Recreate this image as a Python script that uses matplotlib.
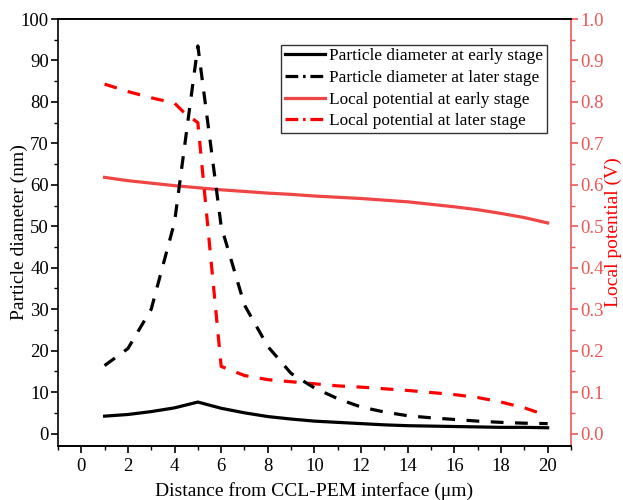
import matplotlib
matplotlib.use("Agg")
import matplotlib.pyplot as plt
from matplotlib.ticker import MultipleLocator
from matplotlib.lines import Line2D

plt.rcParams['font.family'] = ['Liberation Serif', 'DejaVu Serif']

x = list(range(1, 21))
dia_early = [4.2, 4.6, 5.3, 6.2, 7.6, 6.1, 5.0, 4.1, 3.5, 3.0, 2.7, 2.4, 2.1, 1.9, 1.8, 1.7, 1.6, 1.5, 1.5, 1.4]
dia_later = [16.4, 20.5, 30.0, 51.0, 93.5, 50.0, 31.0, 21.0, 14.5, 11.0, 8.4, 6.4, 5.2, 4.3, 3.8, 3.4, 3.0, 2.7, 2.5, 2.4]
pot_early = [0.618, 0.610, 0.604, 0.598, 0.593, 0.588, 0.584, 0.580, 0.577, 0.573,
             0.570, 0.567, 0.563, 0.559, 0.553, 0.547, 0.540, 0.531, 0.521, 0.508]
x_pot_later = [1, 2, 3, 4, 4.4, 5, 6, 7, 8, 9, 10, 11, 12, 13, 14, 15, 16, 17, 18, 19, 20]
pot_later = [0.843, 0.825, 0.81, 0.797, 0.775, 0.75, 0.162, 0.14, 0.13, 0.125, 0.12,
             0.115, 0.112, 0.108, 0.104, 0.099, 0.094, 0.087, 0.076, 0.062, 0.043]

labels = ["Particle diameter at early stage", "Particle diameter at later stage",
          "Local potential at early stage", "Local potential at later stage"]

RED_SOLID = '#f04545'
RED_AX = '#f05555'
RED_DASH = '#ff0000'

fig = plt.figure(figsize=(6.23, 5.0), dpi=100)
ax = fig.add_axes([0.093, 0.108, 0.8235, 0.854])
ax2 = ax.twinx()

lw = 2.3
dash = (4, 3.6)
ax.plot(x, dia_early, color='black', lw=lw)
ax.plot(x, dia_later, color='black', lw=lw, dashes=dash)
ax2.plot(x, pot_early, color=RED_SOLID, lw=lw)
ax2.plot(x_pot_later, pot_later, color=RED_DASH, lw=lw, dashes=dash)

ax.set_xlim(-1, 21)
ax.set_ylim(-3, 100)
ax2.set_ylim(-0.03, 1.0)

ax.xaxis.set_major_locator(MultipleLocator(2))
ax.xaxis.set_minor_locator(MultipleLocator(1))
ax.yaxis.set_major_locator(MultipleLocator(10))
ax.yaxis.set_minor_locator(MultipleLocator(5))
ax2.set_yticks([i / 10 for i in range(11)])
ax2.set_yticklabels([f"{i/10:.1f}" for i in range(11)])
ax2.yaxis.set_minor_locator(MultipleLocator(0.05))

for a in (ax, ax2):
    for s in a.spines.values():
        s.set_linewidth(1.2)
ax2.spines['right'].set_color(RED_AX)
ax2.spines['left'].set_visible(False)
ax.spines['right'].set_visible(False)

TS = 13.5
ax.tick_params(axis='both', which='major', direction='out', length=5, width=1.2,
               labelsize=TS, top=False, right=False)
ax.tick_params(axis='y', which='major', pad=1.5)
ax.tick_params(axis='both', which='minor', direction='out', length=3, width=1.0,
               top=False, right=False)
ax2.tick_params(axis='y', which='major', direction='out', length=5, width=1.2,
                labelsize=TS, colors=RED_AX, pad=2)
ax2.tick_params(axis='y', which='minor', direction='out', length=3, width=1.0,
                colors=RED_AX)

ax.set_xlabel("Distance from CCL-PEM interface (μm)", fontsize=14)
ax.xaxis.set_label_coords(0.5, -0.084)
ax.set_ylabel("Particle diameter (nm)", fontsize=14)
ax.yaxis.set_label_coords(-0.058, 0.5)
ax2.set_ylabel("Local potential (V)", fontsize=14, color=RED_DASH)
ax2.yaxis.set_label_coords(1.066, 0.5)

dd = (4, 1.5, 0.8, 1.5)
handles = [
    Line2D([], [], color='black', lw=lw),
    Line2D([], [], color='black', lw=lw, dashes=dd),
    Line2D([], [], color=RED_SOLID, lw=lw),
    Line2D([], [], color=RED_DASH, lw=lw, dashes=dd),
]
leg = ax.legend(handles=handles, labels=labels, loc='upper right',
                bbox_to_anchor=(0.953, 0.94), fontsize=12.4, frameon=True,
                fancybox=False, edgecolor='black', handlelength=2.3,
                handletextpad=0.25, borderpad=0.22, labelspacing=0.32,
                borderaxespad=0)
leg.get_frame().set_linewidth(1.0)
ax.set_zorder(ax2.get_zorder() + 1)
ax.patch.set_visible(False)

fig.savefig("out.png", dpi=100)
